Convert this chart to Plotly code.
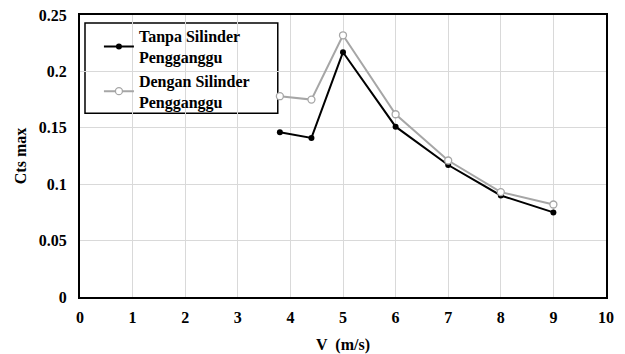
import plotly.graph_objects as go

v = [3.8, 4.4, 5, 6, 7, 8, 9]
tanpa = [0.146, 0.141, 0.217, 0.151, 0.117, 0.090, 0.075]
dengan = [0.178, 0.175, 0.232, 0.162, 0.121, 0.093, 0.082]
x_ticks = list(range(0, 11))
y_ticks = [0, 0.05, 0.1, 0.15, 0.2, 0.25]
y_labels = ["0", "0.05", "0.1", "0.15", "0.2", "0.25"]

font = "'Times New Roman', 'Liberation Serif', Tinos, 'DejaVu Serif', serif"

fig = go.Figure()
fig.add_trace(go.Scatter(x=v, y=tanpa, mode="lines+markers",
                         name="<b>Tanpa Silinder<br>Pengganggu</b>",
                         line=dict(color="black", width=2),
                         marker=dict(color="black", size=6, symbol="circle")))
fig.add_trace(go.Scatter(x=v, y=dengan, mode="lines+markers",
                         name="<b>Dengan Silinder<br>Pengganggu</b>",
                         line=dict(color="#a6a6a6", width=2),
                         marker=dict(color="white", size=7, symbol="circle",
                                     line=dict(color="#a6a6a6", width=1.3))))

# legend frame (white box with black border, drawn above gridlines)
fig.add_shape(type="rect", xref="paper", yref="paper",
              x0=0.0095, x1=0.376, y0=0.652, y1=0.972,
              fillcolor="white", line=dict(color="black", width=1.5),
              layer="between")

fig.update_layout(
    width=625, height=354,
    margin=dict(l=80, r=19, t=15, b=57),
    paper_bgcolor="white", plot_bgcolor="white",
    font=dict(family=font, size=16, color="black"),
    showlegend=True,
    legend=dict(x=0.036, y=0.985, xanchor="left", yanchor="top",
                bgcolor="rgba(0,0,0,0)", borderwidth=0,
                font=dict(family=font, size=16, color="black"),
                tracegroupgap=2),
    xaxis=dict(range=[0, 10], tickvals=x_ticks,
               ticktext=[f"<b>{t}</b>" for t in x_ticks],
               showgrid=True, gridcolor="#d9d9d9", gridwidth=1,
               showline=True, linecolor="black", linewidth=2, mirror=True,
               ticks="", zeroline=False, ticklabelstandoff=5, automargin=False,
               title=dict(text="<b>V  (m/s)</b>", font=dict(family=font, size=16), standoff=14)),
    yaxis=dict(range=[0, 0.25], tickvals=y_ticks,
               ticktext=[f"<b>{t}</b>" for t in y_labels],
               showgrid=True, gridcolor="#d9d9d9", gridwidth=1,
               showline=True, linecolor="black", linewidth=2, mirror=True,
               ticks="", zeroline=False, ticklabelstandoff=8, automargin=False,
               title=dict(text="<b>Cts max</b>", font=dict(family=font, size=16), standoff=8)),
)

fig.write_html("out.html")
